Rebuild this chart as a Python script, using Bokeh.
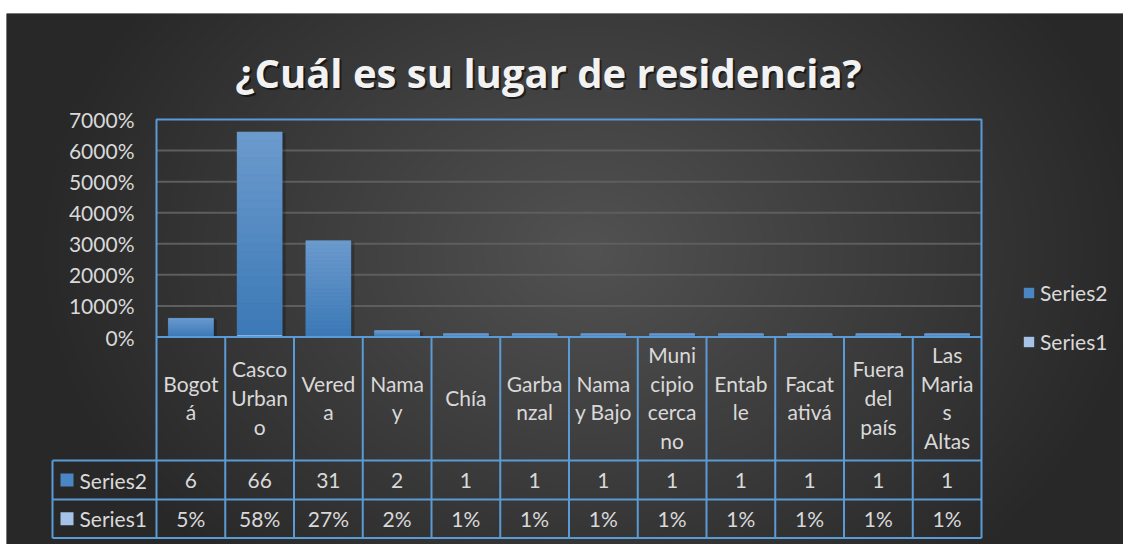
import numpy as np
from bokeh.plotting import figure
from bokeh.models import Range1d, FixedTicker, NumeralTickFormatter, Legend, LegendItem
from bokeh.core.properties import value
from bokeh.embed import file_html
from bokeh.resources import INLINE

# ---------------- data ----------------
categories = ["Bogotá", "Casco Urbano", "Vereda", "Namay", "Chía", "Garbanzal",
              "Namay Bajo", "Municipio cercano", "Entable", "Facatativá",
              "Fuera del país", "Las Marias Altas"]
category_labels = ["Bogot\ná", "Casco\nUrban\no", "Vered\na", "Nama\ny", "Chía",
                   "Garba\nnzal", "Nama\ny Bajo", "Muni\ncipio\ncerca\nno",
                   "Entab\nle", "Facat\nativá", "Fuera\ndel\npaís", "Las\nMaria\ns\nAltas"]
series2 = [6, 66, 31, 2, 1, 1, 1, 1, 1, 1, 1, 1]
series1 = [0.05, 0.58, 0.27, 0.02, 0.01, 0.01, 0.01, 0.01, 0.01, 0.01, 0.01, 0.01]
series_names = ["Series2", "Series1"]
y_ticks = [0, 10, 20, 30, 40, 50, 60, 70]
title_text = "¿Cuál es su lugar de residencia?"

# ---------------- layout helpers (image pixel -> data) ----------------
W, H = 1123, 544
CAT_PX = 68.75
PLOT_L = 156.0
ZERO_PX = 336.5
PX_PER_UNIT = 3.107


def dx(px):
    return (px - PLOT_L) / CAT_PX - 0.5


def dy(py):
    return (ZERO_PX - py) / PX_PER_UNIT


n = len(categories)
xc = list(range(n))
x_lo, x_hi = -0.5, n - 0.5
y_top = y_ticks[-1]
row1_bottom = dy(460)
row2_bottom = dy(499)
row3_bottom = dy(537.5)
series_left = dx(52)

FONT = value("Lato")
TXT = "#d9d9d9"
BLUE_LINE = "#5b9bd5"
C2 = "#4a86c4"
C1 = "#a4c3e7"
BAR_W = 0.655

FL, FT = 6, 13
p = figure(width=W, height=H,
           x_range=Range1d(dx(FL), dx(W)), y_range=Range1d(dy(H), dy(FT)),
           output_backend="svg", toolbar_location=None,
           x_axis_location=None, y_axis_location="left",
           min_border=0, min_border_top=FT, min_border_left=FL)
p.border_fill_color = "white"
p.background_fill_color = "#2b2b2b"
p.outline_line_color = None
for g in p.grid:
    g.visible = False

# ---------------- background radial gradient ----------------
gw, gh = 560, 266
xs = np.linspace(FL, W, gw)
ys = np.linspace(FT, H, gh)
X, Y = np.meshgrid(xs, ys)
d = np.sqrt(((X - 590) / 560.0) ** 2 + ((Y - 250) / 430.0) ** 2)
d = np.clip(d, 0, 1)
c = (82 + (40 - 82) * d).astype(np.uint8)
img = np.empty((gh, gw), dtype=np.uint32)
view = img.view(dtype=np.uint8).reshape((gh, gw, 4))
view[..., 0] = c
view[..., 1] = c
view[..., 2] = c
view[..., 3] = 255
img = img[::-1].copy()
x0, x1 = dx(FL), dx(W)
y0, y1 = dy(H), dy(FT)
p.image_rgba(image=[img], x=x0, y=y0, dw=x1 - x0, dh=y1 - y0)

# ---------------- gridlines ----------------
gl = [t for t in y_ticks if 0 < t < y_top]
p.segment(x0=[x_lo] * len(gl), x1=[x_hi] * len(gl), y0=gl, y1=gl,
          line_color="#5e5e5e", line_width=2)

# ---------------- bars ----------------
s2 = np.array(series2, dtype=float)
# soft shadow
p.vbar(x=[v + 0.03 for v in xc], top=s2 - 0.4, bottom=0, width=BAR_W + 0.04,
       fill_color="black", fill_alpha=0.22, line_color=None)
r2 = p.vbar(x=xc, top=series2, bottom=0, width=BAR_W, fill_color=C2, line_color=None)
# vertical gradient on each bar (lighter at top, darker at bottom)
K = 24
top_rgb = np.array([0x6c, 0x9b, 0xce])
bot_rgb = np.array([0x3b, 0x78, 0xb5])
for k in range(K):
    f0, f1 = k / K, (k + 1) / K
    col = bot_rgb + (top_rgb - bot_rgb) * ((k + 0.5) / K)
    hexc = "#%02x%02x%02x" % tuple(int(round(v)) for v in col)
    p.vbar(x=xc, bottom=s2 * f0, top=s2 * f1, width=BAR_W, fill_color=hexc,
           line_color=hexc, line_width=0.5)
r1 = p.vbar(x=xc, top=series1, bottom=0, width=BAR_W, fill_color=C1, line_color=None)

# ---------------- plot frame ----------------
p.quad(left=[x_lo], right=[x_hi], bottom=[0], top=[y_top], fill_color=None,
       line_color=BLUE_LINE, line_width=2)

# ---------------- data table ----------------
vx = [x_lo + k for k in range(n + 1)]
p.segment(x0=vx, x1=vx, y0=[0] * len(vx), y1=[row3_bottom] * len(vx),
          line_color=BLUE_LINE, line_width=2)
p.segment(x0=[series_left], x1=[series_left], y0=[row1_bottom], y1=[row3_bottom],
          line_color=BLUE_LINE, line_width=2)
hy = [row1_bottom, row2_bottom, row3_bottom]
p.segment(x0=[series_left] * 3, x1=[x_hi] * 3, y0=hy, y1=hy,
          line_color=BLUE_LINE, line_width=2)

cat_mid = dy(397)
p.text(x=xc, y=[cat_mid] * n, text=category_labels, text_font=FONT,
       text_font_size="21px", text_color=TXT, text_align="center",
       text_baseline="middle", text_line_height=1.15)

r2_mid = (row1_bottom + row2_bottom) / 2
r3_mid = (row2_bottom + row3_bottom) / 2
p.text(x=xc, y=[r2_mid] * n, text=[str(v) for v in series2], text_font=FONT,
       text_font_size="21px", text_color=TXT, text_align="center", text_baseline="middle")
p.text(x=xc, y=[r3_mid] * n, text=[f"{round(v * 100)}%" for v in series1], text_font=FONT,
       text_font_size="21px", text_color=TXT, text_align="center", text_baseline="middle")

p.scatter(x=[dx(66.5)] * 2, y=[r2_mid, r3_mid], marker="square", size=13,
          fill_color=[C2, C1], line_color=None)
p.text(x=[dx(79)] * 2, y=[r2_mid, r3_mid], text=series_names, text_font=FONT,
       text_font_size="21px", text_color=TXT, text_align="left", text_baseline="middle")

# ---------------- title ----------------
TFONT = value("Open Sans")
tx, ty = dx(548), dy(72)
p.text(x=[tx], y=[ty], text=[title_text], text_font=TFONT, text_font_style="bold",
       text_font_size="40px", text_color="black", text_alpha=0.55,
       text_align="center", text_baseline="alphabetic", x_offset=2, y_offset=2)
p.text(x=[tx], y=[ty], text=[title_text], text_font=TFONT, text_font_style="bold",
       text_font_size="40px", text_color="#f2f2f2",
       text_align="center", text_baseline="alphabetic")

# ---------------- y axis ----------------
ax = p.yaxis[0]
ax.fixed_location = x_lo
ax.ticker = FixedTicker(ticks=y_ticks)
ax.formatter = NumeralTickFormatter(format="0%")
ax.axis_line_color = None
ax.major_tick_line_color = None
ax.minor_tick_line_color = None
ax.major_label_standoff = 16
ax.major_label_text_font = "Lato"
ax.major_label_text_font_size = "21px"
ax.major_label_text_color = TXT

# ---------------- legend ----------------
legend = Legend(items=[LegendItem(label=series_names[0], renderers=[r2]),
                       LegendItem(label=series_names[1], renderers=[r1])],
                location=(1022 - FL, H - 354), orientation="vertical",
                background_fill_alpha=0, border_line_color=None,
                label_text_color=TXT, label_text_font="Lato", label_text_font_size="21px",
                glyph_width=13, glyph_height=13, label_height=22, spacing=24,
                padding=0, margin=0, label_standoff=5)
p.add_layout(legend)

open("out.html", "w").write(file_html(p, INLINE))
